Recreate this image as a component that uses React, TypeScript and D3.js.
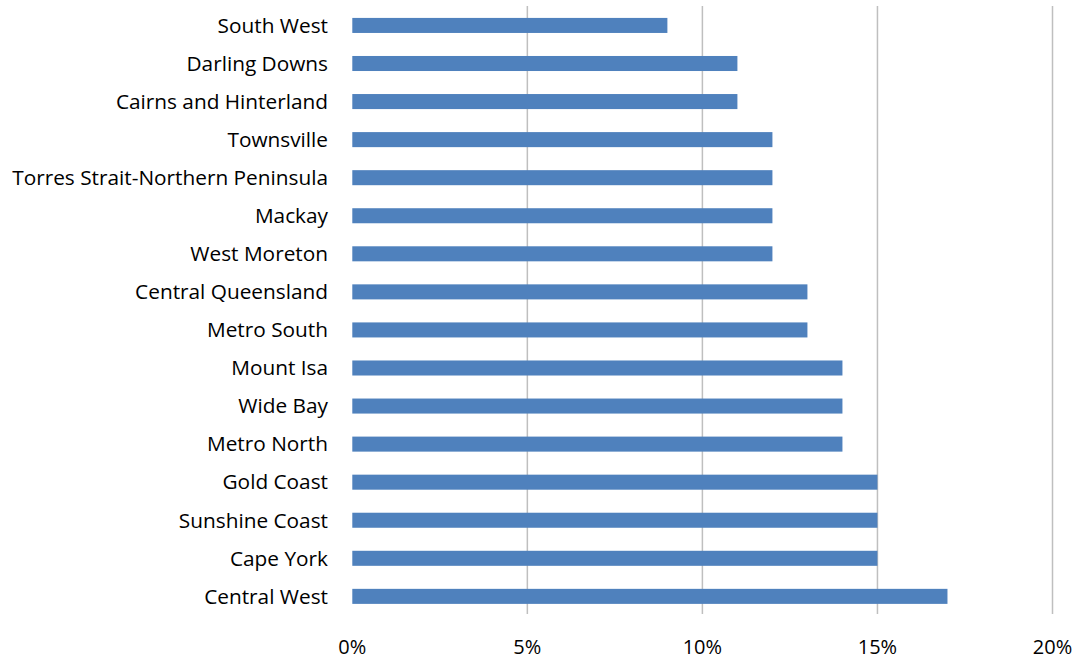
import React from "react";
import * as d3 from "d3";

const categories = [
  "South West",
  "Darling Downs",
  "Cairns and Hinterland",
  "Townsville",
  "Torres Strait-Northern Peninsula",
  "Mackay",
  "West Moreton",
  "Central Queensland",
  "Metro South",
  "Mount Isa",
  "Wide Bay",
  "Metro North",
  "Gold Coast",
  "Sunshine Coast",
  "Cape York",
  "Central West",
];
const values = [9, 11, 11, 12, 12, 12, 12, 13, 13, 14, 14, 14, 15, 15, 15, 17];
const ticks = [0, 5, 10, 15, 20];

export default function App() {
  const W = 1079, H = 661;
  const x = d3.scaleLinear().domain([0, 20]).range([352.3, 1052.5]);
  const y = d3.scaleBand().domain(categories).range([6.5, 615.3]).paddingInner(0.605).paddingOuter(0.3);
  const font = "'Open Sans', sans-serif";
  return (
    <svg width={W} height={H} style={{ position: "absolute", left: 0, top: 0 }}>
      <rect width={W} height={H} fill="#fff" />
      {ticks.filter(t => t > 0).map(t => (
        <line key={t} x1={x(t)} x2={x(t)} y1={6} y2={614} stroke="#BFBFBF" strokeWidth={1.5} />
      ))}
      {categories.map((c, i) => (
        <rect key={c} x={x(0)} y={y(c)} width={x(values[i]) - x(0)} height={y.bandwidth()} fill="#4F81BD" />
      ))}
      {categories.map(c => (
        <text key={c} x={328} y={(y(c) as number) + y.bandwidth() / 2} dy="0.35em" textAnchor="end"
          fontFamily={font} fontSize={20.8} fill="#000">{c}</text>
      ))}
      {ticks.map(t => (
        <text key={t} x={x(t)} y={647} dy="0.35em" textAnchor="middle" fontFamily={font} fontSize={20} fill="#000">{t}%</text>
      ))}
    </svg>
  );
}
